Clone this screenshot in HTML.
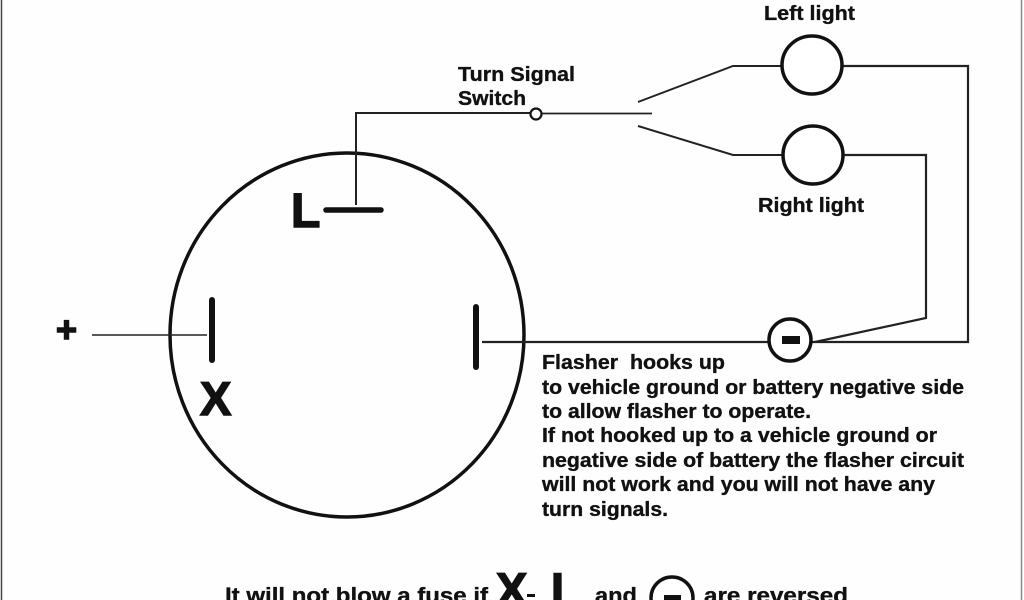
<!DOCTYPE html>
<html>
<head>
<meta charset="utf-8">
<style>
html,body{margin:0;padding:0;background:#fff;width:1024px;height:600px;overflow:hidden}
svg{display:block}
text{font-family:"Liberation Sans",sans-serif;font-weight:bold;fill:#111}
.h{stroke:#111;stroke-width:1.500px}
.t{stroke:#111;stroke-width:.35px}
</style>
</head>
<body>
<svg width="1024" height="600" viewBox="0 0 1024 600">
<rect width="1024" height="600" fill="#fefefe"/>
<line x1="1.5" y1="0" x2="1.5" y2="600" stroke="#444" stroke-width="1.5"/>
<line x1="1021.5" y1="0" x2="1021.5" y2="600" stroke="#888" stroke-width="1.5"/>

<ellipse cx="347" cy="335" rx="177" ry="182" fill="none" stroke="#111" stroke-width="3.5"/>

<g fill="none" stroke="#222" stroke-linejoin="miter">
<line x1="92" y1="335" x2="207" y2="335" stroke-width="1.5"/>
<polyline points="356,205 356,113 530,113" stroke-width="2"/>
<line x1="541" y1="113.500" x2="652" y2="113.500" stroke-width="1.7"/>
<polyline points="638,102 733,66 782,66" stroke-width="2"/>
<polyline points="638,126 733,155 782,155" stroke-width="2"/>
<polyline points="843,66 968,66 968,342 812,342" stroke-width="2.200"/>
<polyline points="844,155 926,155 926,318 815,342" stroke-width="2.200"/>
<line x1="482" y1="342" x2="768" y2="342" stroke-width="2.200"/>
</g>

<circle cx="536" cy="114" r="5.500" fill="#fff" stroke="#111" stroke-width="2.200"/>
<ellipse cx="812" cy="65" rx="30" ry="29" fill="#fff" stroke="#111" stroke-width="3.500"/>
<ellipse cx="813" cy="155" rx="30" ry="29" fill="#fff" stroke="#111" stroke-width="3.500"/>
<circle cx="790" cy="340" r="21" fill="#fff" stroke="#111" stroke-width="3.500"/>
<rect x="782" y="336" width="18" height="8" fill="#111"/>

<g stroke="#111" stroke-linecap="round" fill="none">
<line x1="212" y1="300" x2="212" y2="360" stroke-width="6"/>
<line x1="476" y1="307" x2="476" y2="367" stroke-width="6"/>
<line x1="326" y1="210" x2="381" y2="210" stroke-width="5.500"/>
</g>

<text class="h" x="291" y="227" font-size="48">L</text>
<text class="h" x="200" y="415" font-size="47">X</text>
<text class="h" x="56" y="342" font-size="36">+</text>

<g font-size="20">
<text class="t" x="458" y="81" textLength="117" lengthAdjust="spacingAndGlyphs">Turn Signal</text>
<text class="t" x="458" y="105" textLength="68" lengthAdjust="spacingAndGlyphs">Switch</text>
<text class="t" x="764" y="20" textLength="91" lengthAdjust="spacingAndGlyphs">Left light</text>
<text class="t" x="758" y="212" textLength="106" lengthAdjust="spacingAndGlyphs">Right light</text>
</g>

<g font-size="20">
<text class="t" x="542" y="369" xml:space="preserve" textLength="183" lengthAdjust="spacingAndGlyphs">Flasher  hooks up</text>
<text class="t" x="542" y="394" textLength="422" lengthAdjust="spacingAndGlyphs">to vehicle ground or battery negative side</text>
<text class="t" x="542" y="418" textLength="269" lengthAdjust="spacingAndGlyphs">to allow flasher to operate.</text>
<text class="t" x="542" y="442" textLength="395" lengthAdjust="spacingAndGlyphs">If not hooked up to a vehicle ground or</text>
<text class="t" x="542" y="467" textLength="422" lengthAdjust="spacingAndGlyphs">negative side of battery the flasher circuit</text>
<text class="t" x="542" y="491" textLength="393" lengthAdjust="spacingAndGlyphs">will not work and you will not have any</text>
<text class="t" x="542" y="516" textLength="126" lengthAdjust="spacingAndGlyphs">turn signals.</text>
</g>

<text class="t" x="225" y="603" font-size="22" textLength="263" lengthAdjust="spacingAndGlyphs">It will not blow a fuse if</text>
<text class="h" x="496" y="606" font-size="47">X</text>
<rect x="527" y="594" width="8" height="3" fill="#111"/>
<text class="h" x="551" y="606" font-size="47">L</text>
<text class="t" x="595" y="603" font-size="22" textLength="42" lengthAdjust="spacingAndGlyphs">and</text>
<circle cx="672" cy="598" r="21" fill="#fff" stroke="#111" stroke-width="3.500"/>
<rect x="664" y="595" width="17" height="6" fill="#111"/>
<text class="t" x="704" y="603" font-size="22" textLength="144" lengthAdjust="spacingAndGlyphs">are reversed</text>
</svg>
</body>
</html>
